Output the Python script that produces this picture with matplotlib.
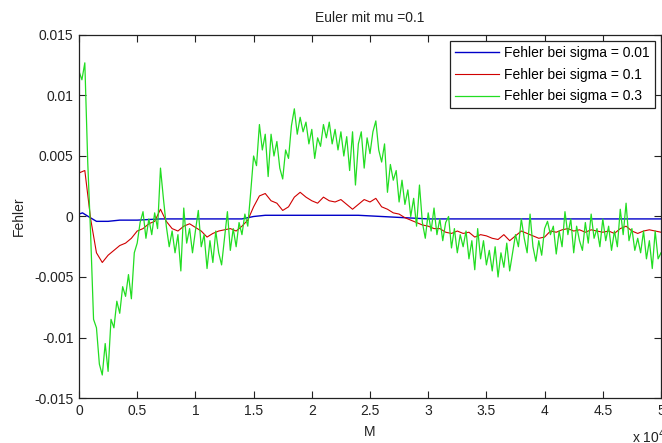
import numpy as np
import matplotlib
matplotlib.use('Agg')
import matplotlib.pyplot as plt

# values, x in units of 1e4
x_green = np.arange(0, 5.0001, 0.025)
green = [0.0120, 0.0113, 0.0127, 0.0045, -0.0015, -0.0085, -0.0092, -0.0122, -0.0131, -0.0105,
         -0.0128, -0.0085, -0.0092, -0.0070, -0.0080, -0.0058, -0.0066, -0.0048, -0.0068, -0.0030,
         -0.0022,
         -0.0005, 0.0004, -0.0018, -0.0002, -0.0015, 0.0003, -0.0010, 0.0040, 0.0015, -0.0008,
         -0.0025, -0.0012, -0.0030, -0.0015, -0.0045, 0.0007, -0.0022, -0.0010, -0.0030, -0.0012,
         0.0005, -0.0025, -0.0015, -0.0043, -0.0020, -0.0038, -0.0012, -0.0030, -0.0040, -0.0018,
         0.0004, -0.0028, -0.0010, -0.0025, -0.0005, -0.0015, 0.0002, -0.0008, 0.0020, 0.0050,
         0.0042, 0.0076, 0.0055, 0.0068, 0.0033, 0.0068, 0.0050, 0.0062, 0.0040, 0.0031,
         0.0055, 0.0048, 0.0075, 0.0089, 0.0068, 0.0082, 0.0070, 0.0078, 0.0060, 0.0072,
         0.0048, 0.0065, 0.0058, 0.0076, 0.0065, 0.0078, 0.0060, 0.0072, 0.0055, 0.0070,
         0.0050, 0.0066, 0.0038, 0.0070, 0.0026, 0.0060, 0.0070, 0.0040, 0.0065, 0.0052,
         0.0070, 0.0079, 0.0055, 0.0045, 0.0060, 0.0020, 0.0043, 0.0030, 0.0038, 0.0012,
         0.0030, 0.0010, 0.0022, 0.0000, 0.0015, -0.0008, 0.0026, -0.0005, -0.0018, 0.0003,
         -0.0012, 0.0007, -0.0015, -0.0002, -0.0020, -0.0005, 0.0000, -0.0026, -0.0010, -0.0030,
         -0.0015, -0.0025, -0.0012, -0.0035, -0.0020, -0.0044, -0.0010, -0.0035, -0.0020, -0.0040,
         -0.0028, -0.0045, -0.0025, -0.0050, -0.0030, -0.0042, -0.0022, -0.0045, -0.0030, -0.0015,
         -0.0025, -0.0002, -0.0018, -0.0030, 0.0002, -0.0025, -0.0037, -0.0020, -0.0032, -0.0010,
         -0.0004, -0.0015, -0.0008, -0.0031, -0.0012, -0.0025, 0.0004, -0.0015, -0.0002, -0.0030,
         -0.0008, -0.0020, -0.0028, -0.0005, -0.0022, 0.0002, -0.0018, -0.0010, -0.0025, -0.0002,
         -0.0020, -0.0008, -0.0028, -0.0012, -0.0025, 0.0006, -0.0015, 0.0011, -0.0020, -0.0010,
         -0.0028, -0.0018, -0.0030, -0.0012, -0.0035, -0.0020, -0.0043, -0.0012, -0.0035, -0.0030]

x_red = np.arange(0, 5.0001, 0.05)
red = [0.0036, 0.0038, -0.0002, -0.0030, -0.0038, -0.0032, -0.0028, -0.0024, -0.0022, -0.0018,
       -0.0012, -0.0010, -0.0006, -0.0004, 0.0006, -0.0004, -0.0010, -0.0012, -0.0008, -0.0006,
       -0.0009, -0.0012, -0.0017, -0.0014, -0.0012, -0.0011, -0.0010, -0.0012, -0.0008, -0.0003,
       0.0008, 0.0017, 0.0019, 0.0013, 0.0011, 0.0005, 0.0008, 0.0016, 0.0020, 0.0016,
       0.0013, 0.0011, 0.0016, 0.0013, 0.0012, 0.0014, 0.0010, 0.0006, 0.0010, 0.0014,
       0.0012, 0.0015, 0.0008, 0.0006, 0.0003, 0.0002, -0.0001, -0.0003, -0.0005, -0.0007,
       -0.0008, -0.0010, -0.0010, -0.0013, -0.0014, -0.0012, -0.0014, -0.0013, -0.0017, -0.0015,
       -0.0016, -0.0018, -0.0019, -0.0015, -0.0020, -0.0016, -0.0012, -0.0014, -0.0016, -0.0018,
       -0.0017, -0.0012, -0.0013, -0.0011, -0.0010, -0.0012, -0.0011, -0.0013, -0.0011, -0.0012,
       -0.0013, -0.0012, -0.0014, -0.0010, -0.0008, -0.0012, -0.0014, -0.0012, -0.0011, -0.0012,
       -0.0013]

x_blue = [0.0, 0.03, 0.08, 0.15, 0.25, 0.35, 0.5, 0.7, 1.0, 1.2, 1.4, 1.5, 1.6, 2.0, 2.4, 2.6,
          2.8, 3.0, 4.0, 5.0]
blue = [0.0002, 0.0003, 0.0000, -0.0004, -0.0004, -0.0003, -0.0003, -0.0002, -0.0002, -0.0002,
        -0.0002, 0.0000, 0.0001, 0.0001, 0.0001, 0.0000, -0.0001, -0.0002, -0.0002, -0.0002]

labels = ['Fehler bei sigma = 0.01', 'Fehler bei sigma = 0.1', 'Fehler bei sigma = 0.3']
xticks = [0, 0.5, 1, 1.5, 2, 2.5, 3, 3.5, 4, 4.5, 5]
xticklabels = ['0', '0.5', '1', '1.5', '2', '2.5', '3', '3.5', '4', '4.5', '5']
yticks = [-0.015, -0.01, -0.005, 0, 0.005, 0.01, 0.015]
yticklabels = ['-0.015', '-0.01', '-0.005', '0', '0.005', '0.01', '0.015']

plt.rcParams['font.family'] = ['Liberation Sans', 'DejaVu Sans']
plt.rcParams['font.size'] = 10

fig = plt.figure(figsize=(6.62, 4.43), dpi=100)
ax = fig.add_axes([79/662, 1 - 398/443, 582/662, 363/443])

ax.plot(x_blue, blue, color='#0000c8', lw=1.0, label=labels[0])
ax.plot(x_red, red, color='#d00000', lw=0.8, label=labels[1])
ax.plot(x_green, green, color='#22dd22', lw=0.9, label=labels[2])

ax.set_xlim(0, 5)
ax.set_ylim(-0.015, 0.015)
ax.set_xticks(xticks)
ax.set_xticklabels(xticklabels)
ax.set_yticks(yticks)
ax.set_yticklabels(yticklabels)
ax.tick_params(direction='in', length=5, top=True, right=True, width=0.8, colors='#222222',
               labelcolor='#222222', labelsize=10, pad=4)
for s in ax.spines.values():
    s.set_color('#222222')
    s.set_linewidth(0.9)

ax.set_title('Euler mit mu =0.1', fontsize=10, pad=9, color='#222222')
ax.set_xlabel('M', fontsize=10, labelpad=5, color='#222222')
ax.set_ylabel('Fehler', fontsize=10, labelpad=6, color='#222222')

leg = ax.legend(loc='upper right', fancybox=False, framealpha=1, edgecolor='#222222',
                handlelength=3.2, borderaxespad=0.45, borderpad=0.35, labelspacing=0.55,
                handletextpad=0.35, fontsize=10)
leg.get_frame().set_linewidth(0.9)

# multiplier text sits at the lower right edge, partly outside as in the original
fig.text(632/662, 1 - 437/443, 'x 10$^4$', fontsize=10, va='center', ha='left', color='#222222')

fig.savefig('out.png', dpi=100)
